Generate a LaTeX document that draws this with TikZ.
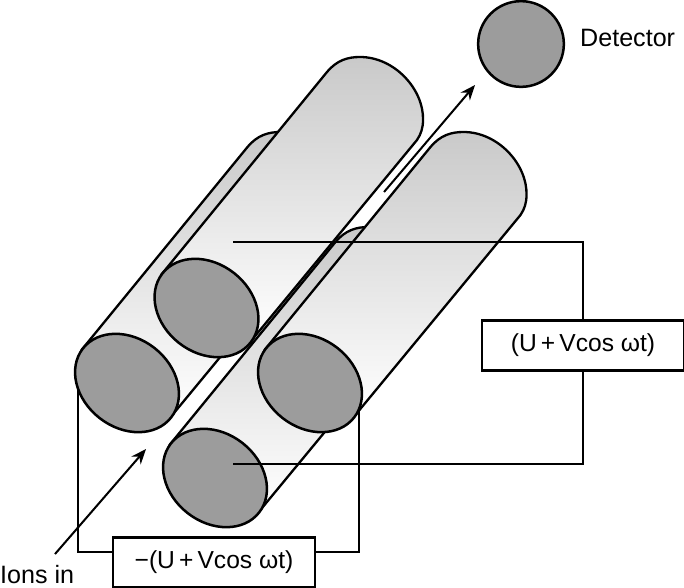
\documentclass[tikz,border=0pt]{standalone}
\usepackage{fontspec}
\setmainfont{Liberation Sans}
\usetikzlibrary{arrows.meta}
\definecolor{rodtop}{gray}{0.79}
\definecolor{rodlow}{gray}{1}
\definecolor{endgray}{gray}{0.61}
\tikzset{
  rod/.style={draw=black,line width=2.3pt,line join=round,top color=rodtop,bottom color=rodlow},
  rodend/.style={draw=black,line width=2.5pt,fill=endgray},
  wire/.style={draw=black,line width=2pt},
  valuebox/.style={draw=black,line width=2.2pt,fill=white,minimum width=7.07cm,minimum height=1.75cm,font=\fontsize{24.5}{28}\selectfont},
  label/.style={inner sep=0pt,font=\fontsize{25}{29}\selectfont},
  flow/.style={line width=2pt,-{Stealth[length=15pt,width=12pt]}}
}
\begin{document}
\begin{tikzpicture}[scale=0.35]
\useasboundingbox (0,0) rectangle (68.4,-58.8);
% rods, back to front
\draw [rod] (8.15,-35) -- (24.75,-14.7) .. controls (25.75,-13.5) and (26.85,-13.2) .. (28.05,-13.2) .. controls (31.55,-13.2) and (34.45,-16.5) .. (34.35,-19.5) .. controls (34.35,-20.3) and (34.15,-20.9) .. (33.75,-21.5) -- (17.15,-41.6) -- cycle;
\draw [rod] (16.1,-27.5) -- (32.7,-7.2) .. controls (33.7,-6) and (34.8,-5.7) .. (36,-5.7) .. controls (39.5,-5.7) and (42.4,-9) .. (42.3,-12) .. controls (42.3,-12.8) and (42.1,-13.4) .. (41.7,-14) -- (25.1,-34.1) -- cycle;
\draw [rod] (16.95,-44.5) -- (33.55,-24.2) .. controls (34.55,-23) and (35.65,-22.7) .. (36.85,-22.7) .. controls (40.35,-22.7) and (43.25,-26) .. (43.15,-29) .. controls (43.15,-29.8) and (42.95,-30.4) .. (42.55,-31) -- (25.95,-51.1) -- cycle;
\draw [rod] (26.45,-35) -- (43.05,-14.7) .. controls (44.05,-13.5) and (45.15,-13.2) .. (46.35,-13.2) .. controls (49.85,-13.2) and (52.75,-16.5) .. (52.65,-19.5) .. controls (52.65,-20.3) and (52.45,-20.9) .. (52.05,-21.5) -- (35.45,-41.6) -- cycle;
% boxes and wires
\node [valuebox] (plusbox) at (58.3,-34.55) {(U\,+\,Vcos ωt)};
\node [valuebox] (minusbox) at (21.4,-56.25) {−(U\,+\,Vcos ωt)};
\coordinate (wireleft) at (7.75,-38.5);
\coordinate (wireright) at (35.85,-40);
\coordinate (wireback) at (23.3,-24.2);
\coordinate (wirefront) at (23.3,-46.4);
\draw [wire] (minusbox.west |- 0,-55.2) -| (wireleft);
\draw [wire] (minusbox.east |- 0,-55.2) -| (wireright);
% rod ends
\draw [rodend] (12.7,-38.3) circle [x radius=5.6,y radius=4.45,rotate=-38];
\draw [rodend] (20.65,-30.8) circle [x radius=5.6,y radius=4.45,rotate=-38];
\draw [rodend] (31,-38.3) circle [x radius=5.6,y radius=4.45,rotate=-38];
\draw [rodend] (21.5,-47.8) circle [x radius=5.6,y radius=4.45,rotate=-38];
\draw [wire] (plusbox.north) |- (wireback);
\draw [wire] (plusbox.south) |- (wirefront);
% detector and ion path
\node [circle,draw=black,line width=2.5pt,fill=endgray,minimum size=3cm,inner sep=0pt] (detector) at (52.1,-4.4) {};
\node [label,anchor=west] (detectorlabel) at (58,-3.8) {Detector};
\node [label,anchor=base west] (ionslabel) at (0,-58.3) {Ions in};
\coordinate (ionsstart) at (5.5,-55.4);
\coordinate (ionsend) at (14.6,-44.9);
\coordinate (exitstart) at (38.4,-19.2);
\coordinate (exitend) at (47.5,-8.5);
\draw [flow] (ionsstart) -- (ionsend);
\draw [flow] (exitstart) -- (exitend);
\end{tikzpicture}
\end{document}
